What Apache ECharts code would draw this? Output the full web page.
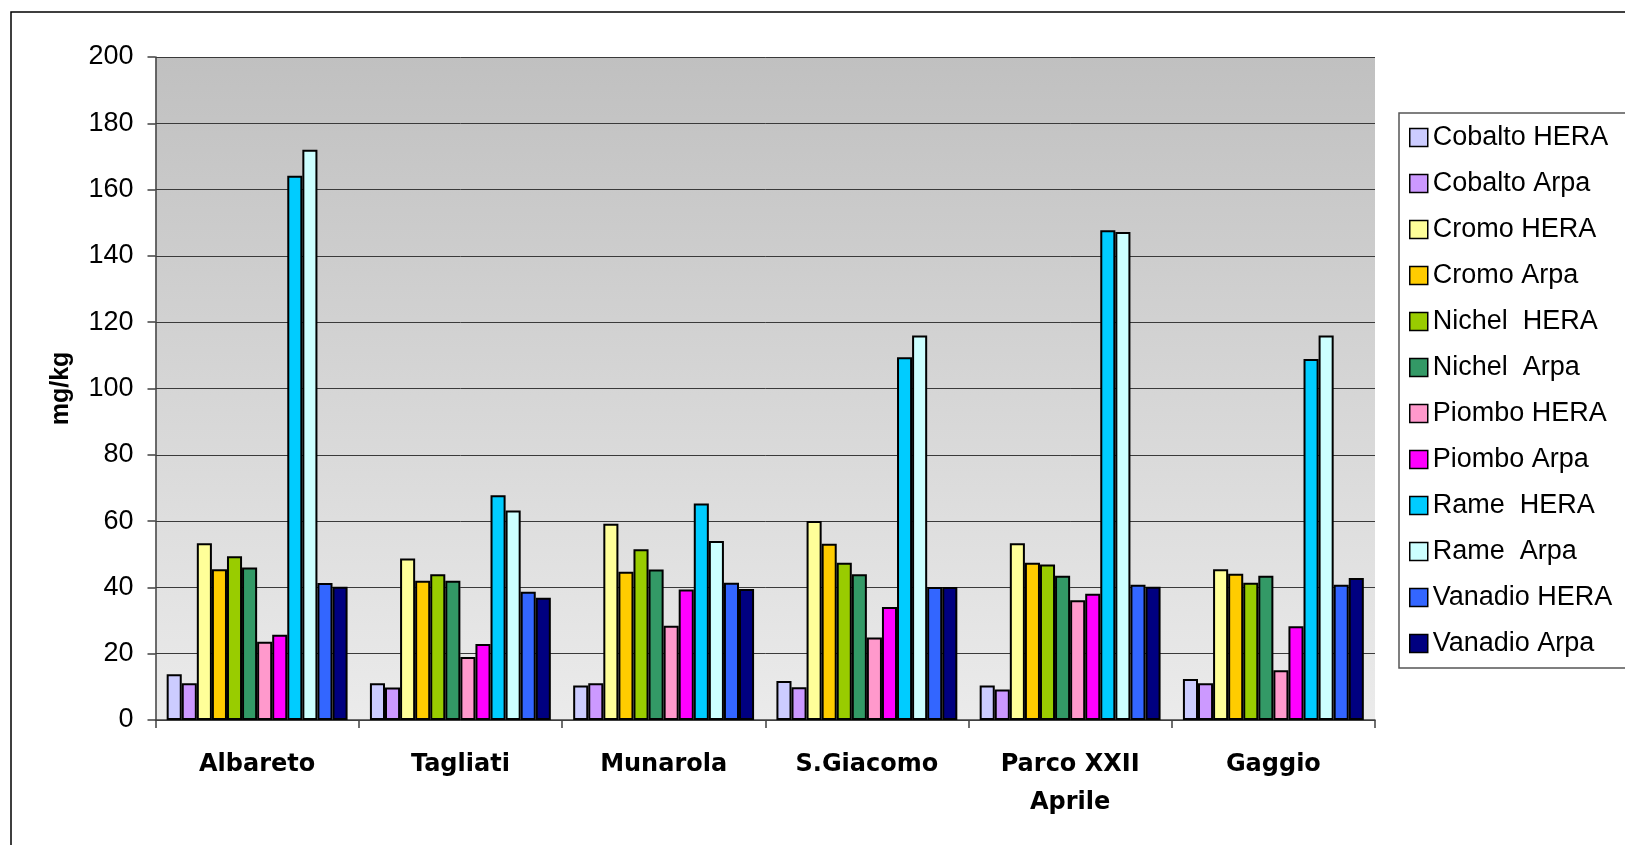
<!DOCTYPE html>
<html>
<head>
<meta charset="utf-8">
<title>mg/kg</title>
<script src="https://cdn.jsdelivr.net/npm/echarts@6/dist/echarts.min.js"></script>
<style>
html,body{margin:0;padding:0;background:#fff;}
#Chart{width:1625px;height:845px;}
</style>
</head>
<body>
<div id="Chart"></div>
<script>
//dati
var categories=["Albareto","Tagliati","Munarola","S.Giacomo","Parco XXII\nAprile","Gaggio"]
var yTicks=[0,20,40,60,80,100,120,140,160,180,200]

var cobaltoHera=[13.8,11.1,10.4,11.8,10.4,12.4]
var cobaltoArpa=[11.1,9.8,11.1,9.9,9.2,11.1]
var cromoHera=[53.3,48.7,59.2,60.0,53.3,45.5]
var cromoArpa=[45.5,42.0,44.7,53.2,47.4,44.1]
var nichelHera=[49.4,44.0,51.5,47.4,46.9,41.4]
var nichelArpa=[46.0,42.0,45.4,44.0,43.5,43.5]
var piomboHera=[23.6,19.0,28.4,24.9,36.1,15.0]
var piomboArpa=[25.7,22.9,39.4,34.1,38.1,28.3]
var rameHera=[164.2,67.8,65.3,109.4,147.7,108.9]
var rameArpa=[172.0,63.2,54.0,116.0,147.2,116.0]
var vanadioHera=[41.3,38.7,41.4,40.1,40.8,40.8]
var vanadioArpa=[40.2,36.9,39.5,40.1,40.2,42.8]

var seriesNames=["Cobalto HERA","Cobalto Arpa","Cromo HERA","Cromo Arpa","Nichel  HERA","Nichel  Arpa",
	"Piombo HERA","Piombo Arpa","Rame  HERA","Rame  Arpa","Vanadio HERA","Vanadio Arpa"]
var seriesData=[cobaltoHera,cobaltoArpa,cromoHera,cromoArpa,nichelHera,nichelArpa,
	piomboHera,piomboArpa,rameHera,rameArpa,vanadioHera,vanadioArpa]
var colors=['#ccccff','#cc99ff','#ffff99','#ffcc00','#99cc00','#339966',
	'#ff99cc','#ff00ff','#00ccff','#ccffff','#3366ff','#000080']

function $each(arr,fn){
	for(var i=0;i<arr.length;i++) fn(i,arr[i])
}

//serie
function buildSeries(){
	var list=[]
	$each(seriesNames,function(i,name){
		list.push({
			name:name,
			type:'bar',
			data:seriesData[i],
			barGap:0,
			barCategoryGap:'11%',
			itemStyle:{
				color:colors[i],
				borderColor:'#000',
				borderWidth:2
			}
		})
	})
	return list
}

//grafico
function drawChar(){
	var myChart=echarts.init(document.getElementById('Chart'),null,{renderer:'canvas'})
	var option={
		animation:false,
		color:colors,
		backgroundColor:'#fff',
		grid:{
			left:155.5,
			right:250,
			top:57,
			bottom:125,
			show:true,
			borderWidth:0,
			backgroundColor:new echarts.graphic.LinearGradient(0,0,0,1,[
				{offset:0,color:'#c0c0c0'},
				{offset:1,color:'#ebebeb'}
			])
		},
		legend:{
			orient:'vertical',
			left:1399,
			top:113,
			itemWidth:18,
			itemHeight:18,
			itemGap:19,
			padding:[11,60,11,10],
			backgroundColor:'#fff',
			borderColor:'#555',
			borderWidth:1.5,
			borderRadius:0,
			icon:'rect',
			itemStyle:{borderColor:'#000',borderWidth:1.5},
			textStyle:{
				fontFamily:'Liberation Sans',
				fontSize:27,
				lineHeight:26,
				color:'#000'
			},
			data:seriesNames
		},
		xAxis:{
			type:'category',
			data:categories,
			axisLine:{lineStyle:{color:'#404040',width:1.5}},
			axisTick:{show:true,length:8,lineStyle:{color:'#404040',width:1.5}},
			axisLabel:{
				margin:26,
				color:'#000',
				fontFamily:'DejaVu Sans',
				fontWeight:'bold',
				fontSize:24,
				lineHeight:38
			},
			splitLine:{show:false}
		},
		yAxis:{
			type:'value',
			min:0,
			max:200,
			interval:20,
			name:'mg/kg',
			nameLocation:'middle',
			nameRotate:90,
			nameGap:82,
			nameTextStyle:{
				fontFamily:'Liberation Sans',
				fontWeight:'bold',
				fontSize:25,
				color:'#000'
			},
			axisLine:{show:true,lineStyle:{color:'#404040',width:1.5}},
			axisTick:{show:true,length:8,lineStyle:{color:'#404040',width:1.5}},
			axisLabel:{
				margin:22,
				color:'#000',
				fontFamily:'Liberation Sans',
				fontSize:27,
				customValues:yTicks
			},
			splitLine:{show:true,lineStyle:{color:'#3a3a3a',width:1}}
		},
		graphic:[
			{
				type:'rect',
				silent:true,
				z:-10,
				shape:{x:11,y:12,width:1700,height:900},
				style:{fill:null,stroke:'#000',lineWidth:1.5}
			}
		],
		series:buildSeries()
	}
	myChart.setOption(option)
}

drawChar()
</script>
</body>
</html>
